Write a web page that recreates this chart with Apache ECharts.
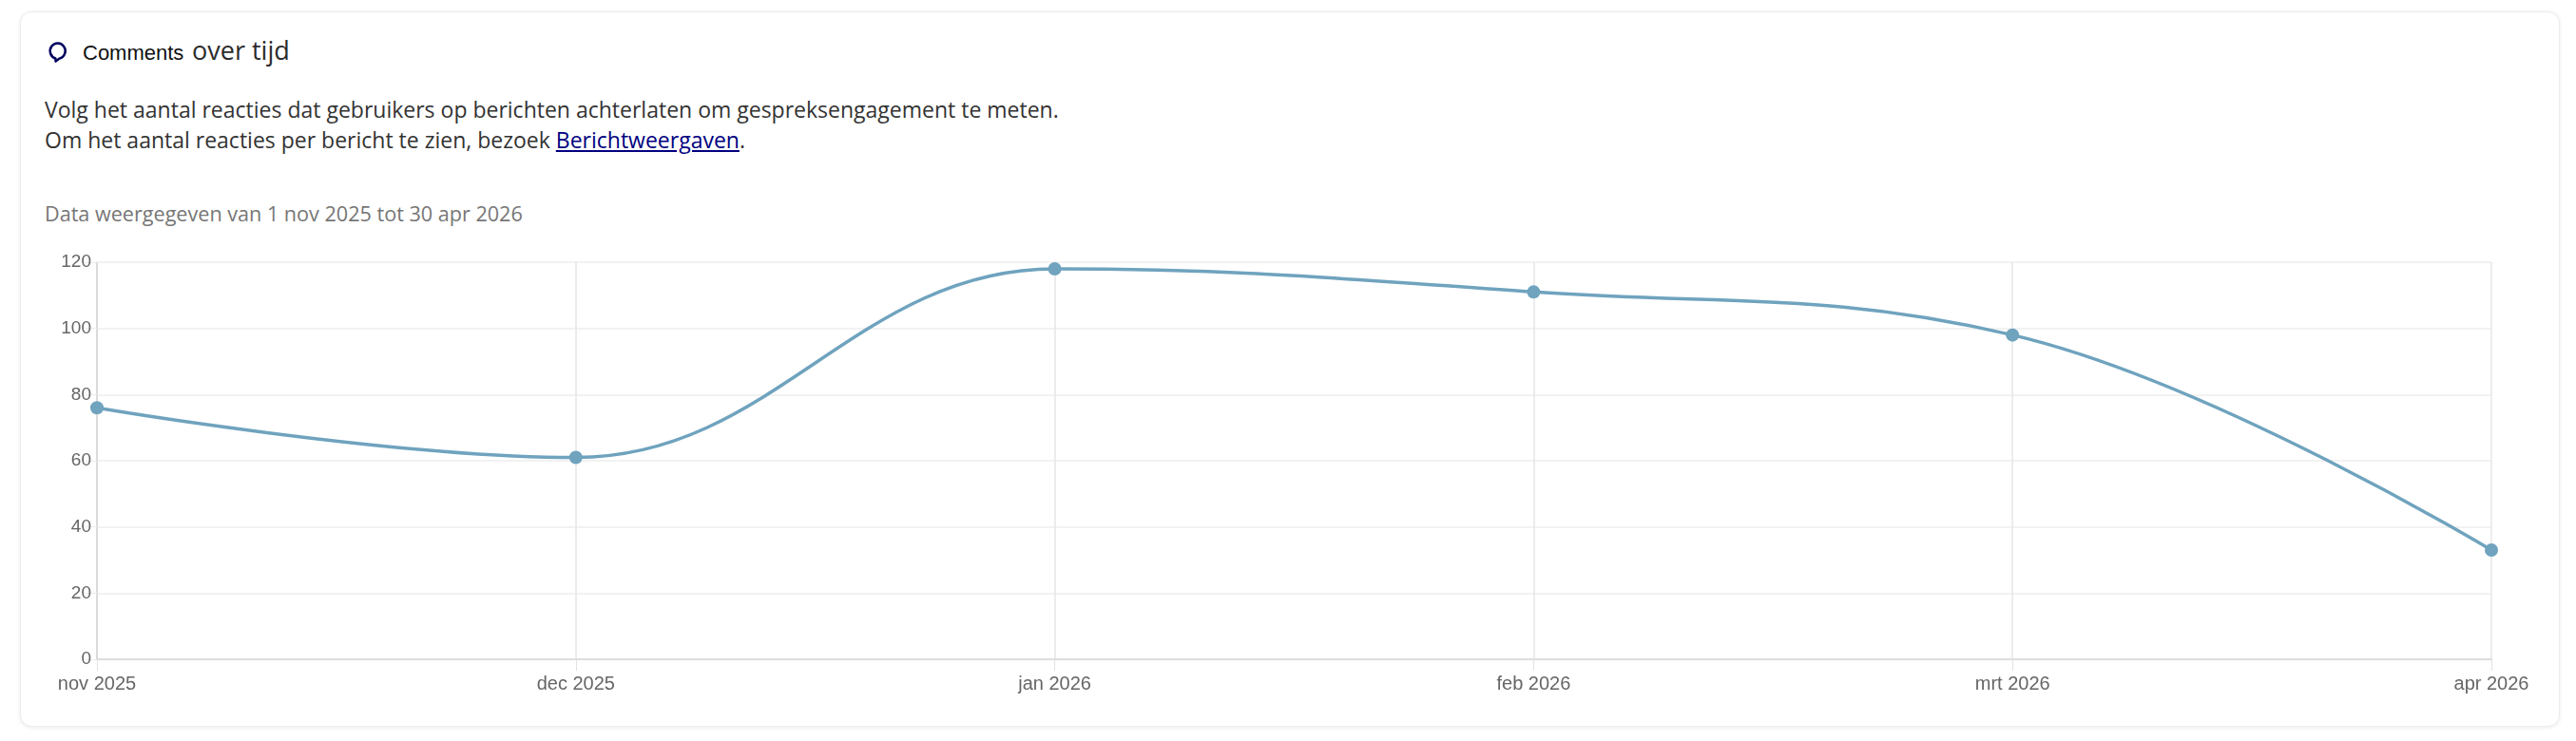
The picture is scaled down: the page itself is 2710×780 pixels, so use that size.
<!DOCTYPE html>
<html>
<head>
<meta charset="utf-8">
<script src="https://cdn.jsdelivr.net/npm/echarts@6/dist/echarts.min.js"></script>
<style>
  html, body { margin: 0; padding: 0; background: #fff; }
  body { width: 2710px; height: 780px; position: relative; overflow: hidden; }
  .card {
    position: absolute; left: 21px; top: 12px; width: 2670px; height: 751px;
    border: 1px solid #ececec; border-radius: 12px; background: #fff;
    box-shadow: 0 1px 4px rgba(0,0,0,0.08);
  }
  .txt { position: absolute; white-space: nowrap; }
  #c1 { left: 87px; top: 41px; font: 22px/30px "Liberation Sans", Arial, sans-serif; color: #111; }
  #c2 { left: 202px; top: 37px; font: 500 27px/32px "Open Sans", sans-serif; color: #2b2b2b; }
  .desc { left: 47px; font: 23px/32px "Open Sans", sans-serif; color: #333; }
  .desc a { color: #000080; text-decoration: underline; }
  #range { left: 47px; top: 210px; font: 21.6px/30px "Open Sans", sans-serif; color: #767676; }
  #chart { position: absolute; left: 0; top: 0; width: 2710px; height: 780px; }
</style>
</head>
<body>
<div class="card"></div>
<svg class="txt" style="left:50px;top:42px" width="24" height="26" viewBox="0 0 24 26">
  <path d="M12.6 19.6 A8 8.2 0 1 0 8.4 19.5 L8.6 22.6 Z" fill="none" stroke="#00005f" stroke-width="2.5" stroke-linejoin="round"/>
</svg>
<div class="txt" id="c1">Comments</div>
<div class="txt" id="c2">over tijd</div>
<div class="txt desc" style="top:99px">Volg het aantal reacties dat gebruikers op berichten achterlaten om gespreksengagement te meten.</div>
<div class="txt desc" style="top:131px">Om het aantal reacties per bericht te zien, bezoek <a href="#">Berichtweergaven</a>.</div>
<div class="txt" id="range">Data weergegeven van 1 nov 2025 tot 30 apr 2026</div>
<div id="chart"></div>
<script>
// maanden en aantal reacties
var months = ['nov 2025', 'dec 2025', 'jan 2026', 'feb 2026', 'mrt 2026', 'apr 2026'];
var comments = [76, 61, 118, 111, 98, 33];
var yTicks = [0, 20, 40, 60, 80, 100, 120];

var myChart = echarts.init(document.getElementById('chart'));
myChart.setOption({
  animation: false,
  grid: { left: 102, right: 89, top: 276, bottom: 86, containLabel: false },
  xAxis: {
    type: 'category',
    data: months,
    boundaryGap: false,
    axisLine: { lineStyle: { color: '#d6d6d6', width: 1.5 } },
    axisTick: { show: true, length: 12, alignWithLabel: true, lineStyle: { color: '#e2e2e2' } },
    axisLabel: { color: '#666', fontSize: 20, fontFamily: 'Liberation Sans', margin: 16 },
    splitLine: { show: true, lineStyle: { color: '#e6e6e6', width: 1.5 } }
  },
  yAxis: {
    type: 'value',
    min: yTicks[0],
    max: yTicks[yTicks.length - 1],
    interval: yTicks[1] - yTicks[0],
    axisLine: { show: true, lineStyle: { color: '#d6d6d6', width: 1.5 } },
    axisTick: { show: true, length: 12, lineStyle: { color: '#ececec' } },
    axisLabel: { color: '#666', fontSize: 19, fontFamily: 'Liberation Sans', margin: 6 },
    splitLine: { show: true, lineStyle: { color: '#eeeeee', width: 1.5 } }
  },
  series: [{
    type: 'line',
    data: comments,
    smooth: 0.4,
    symbol: 'circle',
    symbolSize: 14,
    lineStyle: { color: '#6fa3be', width: 3.5 },
    itemStyle: { color: '#6fa3be' }
  }]
});
</script>
</body>
</html>
